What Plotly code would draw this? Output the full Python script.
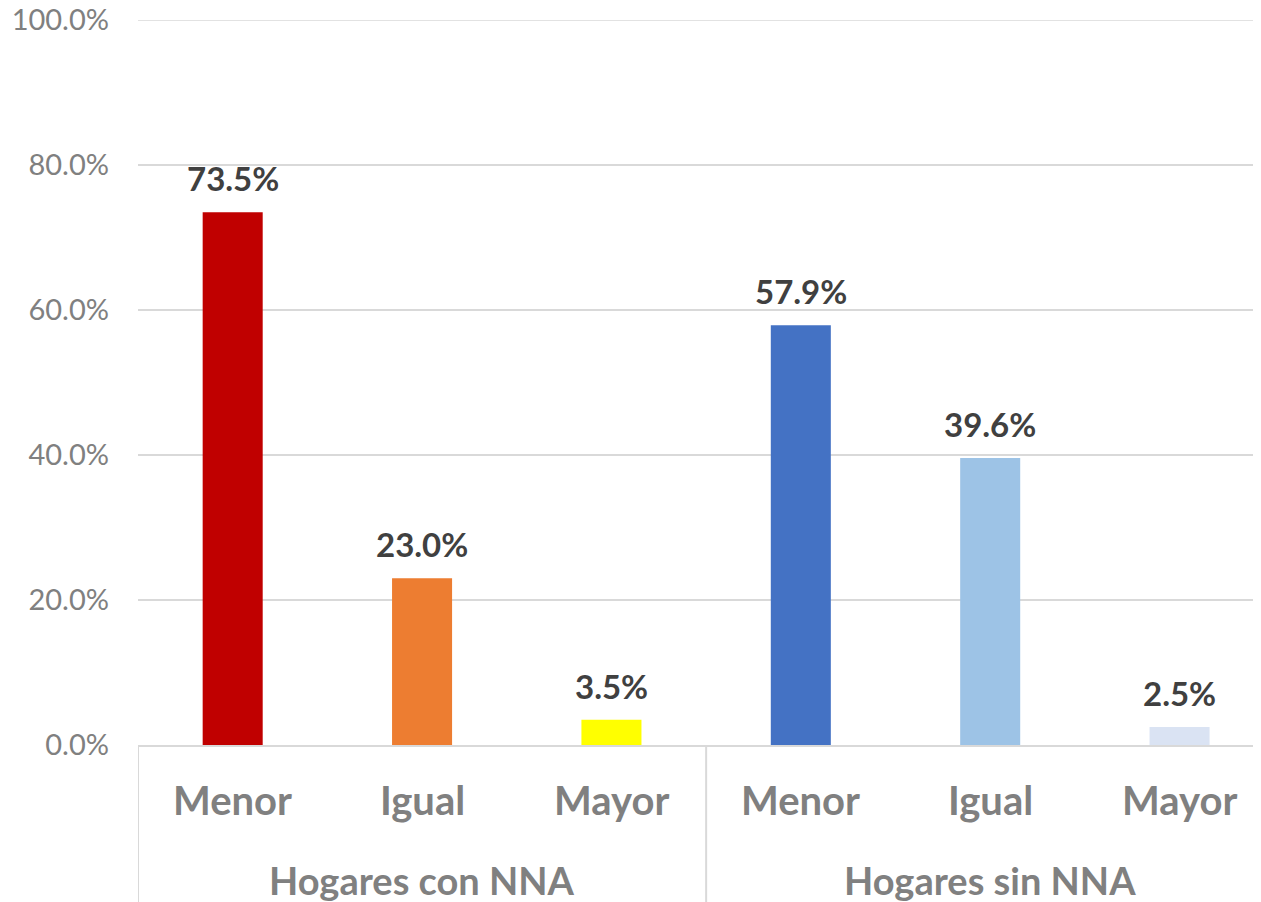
import plotly.graph_objects as go

groups = ["Hogares con NNA"] * 3 + ["Hogares sin NNA"] * 3
categories = ["Menor", "Igual", "Mayor", "Menor", "Igual", "Mayor"]
values = [73.5, 23.0, 3.5, 57.9, 39.6, 2.5]
colors = ["#C00000", "#ED7D31", "#FFFF00", "#4472C4", "#9DC3E6", "#DAE3F3"]
y_ticks = [0, 20, 40, 60, 80, 100]
y_tick_labels = ["0.0%", "20.0%", "40.0%", "60.0%", "80.0%", "100.0%"]

pos = list(range(len(values)))
GRID = "#D9D9D9"
GRAY = "#808080"

fig = go.Figure()
fig.add_trace(go.Bar(
    x=pos, y=values, width=0.317,
    marker=dict(color=colors, line=dict(width=0)),
    hoverinfo="skip", showlegend=False,
))

# value labels above bars
for i, v in zip(pos, values):
    fig.add_annotation(
        x=i, y=v, text=f"<b>{v:.1f}%</b>", showarrow=False,
        yanchor="bottom", yshift=12,
        font=dict(family="Lato", size=33, color="#404040"),
    )

# category labels (first level)
for i, c in zip(pos, categories):
    fig.add_annotation(
        x=i, xref="x", y=0, yref="paper", text=f"<b>{c}</b>",
        showarrow=False, yanchor="middle", yshift=-55,
        font=dict(family="Lato", size=40, color=GRAY),
    )

# group labels + dividers
uniq = list(dict.fromkeys(groups))
for g in uniq:
    idx = [i for i, gg in zip(pos, groups) if gg == g]
    fig.add_annotation(
        x=sum(idx) / len(idx), xref="x", y=0, yref="paper", text=f"<b>{g}</b>",
        showarrow=False, yanchor="middle", yshift=-135,
        font=dict(family="Lato", size=38, color=GRAY),
    )
    fig.add_shape(
        type="line", xref="x", yref="paper",
        x0=idx[0] - 0.5, x1=idx[0] - 0.5, y0=0, y1=-0.23,
        line=dict(color=GRID, width=2),
    )

# plotly clips the gridline at the top edge of the range, so draw it
fig.add_shape(
    type="line", xref="paper", yref="y",
    x0=0, x1=1, y0=y_ticks[-1], y1=y_ticks[-1],
    line=dict(color=GRID, width=1.5), layer="below",
)

# page body has an 8px margin, so the figure is offset by 8px
fig.update_layout(
    width=1253, height=894,
    margin=dict(l=130, r=0, t=12, b=157),
    plot_bgcolor="white", paper_bgcolor="white",
    font=dict(family="Lato"),
    xaxis=dict(
        range=[-0.5, 5.43], showticklabels=False, showgrid=False,
        zeroline=False, showline=True, linecolor=GRID, linewidth=2,
        ticks="", automargin=False, fixedrange=True,
    ),
    yaxis=dict(
        range=[0, 100], tickvals=y_ticks, ticktext=y_tick_labels,
        showgrid=True, gridcolor=GRID, gridwidth=1.5,
        zeroline=False, showline=False, automargin=False,
        tickfont=dict(family="Lato", size=29, color=GRAY),
        ticklabelstandoff=28, ticklabeloverflow="allow",
    ),
)

fig.write_html("out.html")
